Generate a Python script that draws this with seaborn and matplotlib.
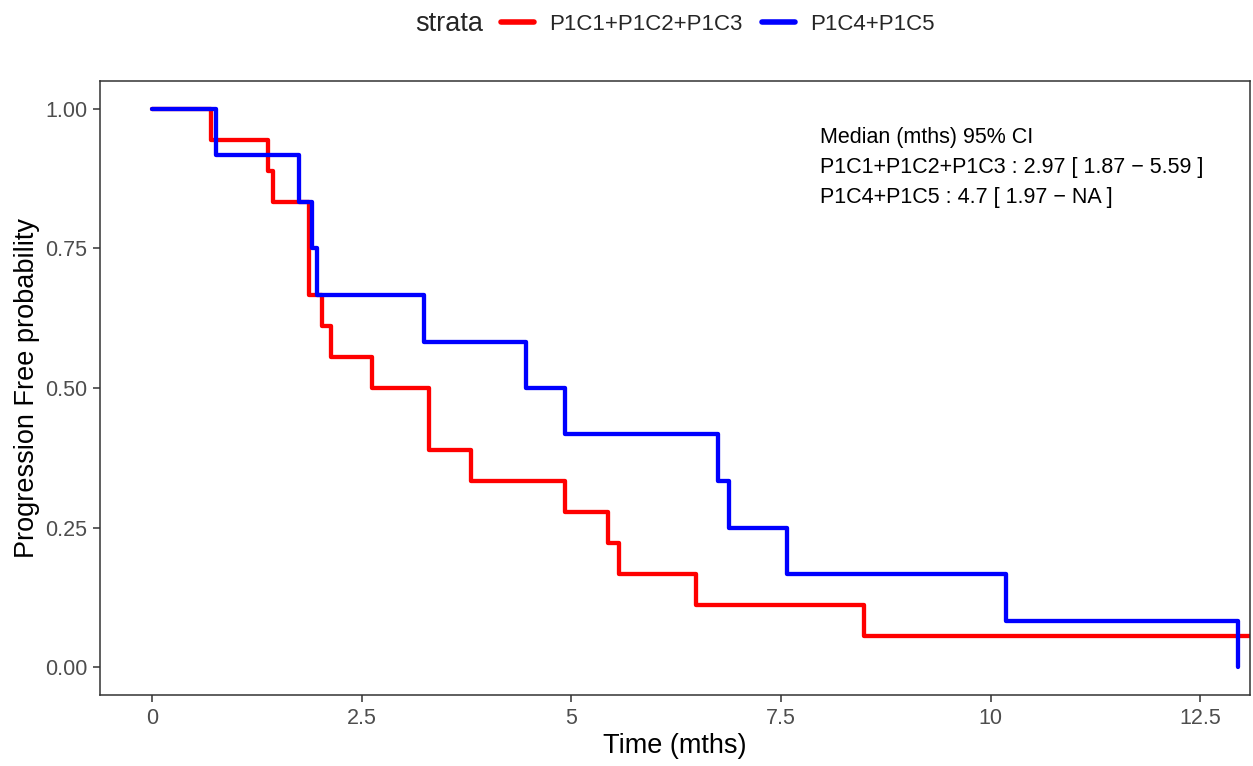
import pandas as pd
import matplotlib
matplotlib.use("Agg")
import matplotlib.pyplot as plt
import seaborn as sns
from matplotlib.lines import Line2D

# survival curve steps
strata_names = ["P1C1+P1C2+P1C3", "P1C4+P1C5"]

red_time = [0, 0.71, 1.38, 1.45, 1.87, 2.03, 2.14, 2.63, 3.31, 3.80, 4.92, 5.44, 5.57, 6.49, 8.49, 13.5]
red_surv = [1.0, 0.944, 0.889, 0.833, 0.667, 0.611, 0.556, 0.5, 0.389, 0.333, 0.278, 0.222, 0.167, 0.111, 0.0556, 0.0556]

blue_time = [0, 0.76, 1.75, 1.91, 1.97, 3.25, 4.46, 4.92, 6.75, 6.88, 7.57, 10.18, 12.95]
blue_surv = [1.0, 0.917, 0.833, 0.75, 0.667, 0.583, 0.5, 0.417, 0.333, 0.25, 0.167, 0.083, 0.0]

x_ticks = [0, 2.5, 5, 7.5, 10, 12.5]
x_tick_labels = ["0", "2.5", "5", "7.5", "10", "12.5"]
y_ticks = [0, 0.25, 0.5, 0.75, 1.0]
y_tick_labels = ["0.00", "0.25", "0.50", "0.75", "1.00"]

median_lines = ["Median (mths) 95% CI",
                "P1C1+P1C2+P1C3 : 2.97 [ 1.87 \u2212 5.59 ]",
                "P1C4+P1C5 : 4.7 [ 1.97 \u2212 NA ]"]

colors = {"P1C1+P1C2+P1C3": "#FF0000", "P1C4+P1C5": "#0000FF"}

# long format table
df = pd.concat([
    pd.DataFrame({"time": red_time, "surv": red_surv, "strata": strata_names[0]}),
    pd.DataFrame({"time": blue_time, "surv": blue_surv, "strata": strata_names[1]}),
], ignore_index=True)

sns.set_style("white")
plt.rcParams["font.family"] = ["Liberation Sans", "DejaVu Sans"]

fig = plt.figure(figsize=(12.53, 7.66), dpi=100)
ax = fig.add_axes([100 / 1253, 1 - 695 / 766, 1150 / 1253, 614 / 766])

sns.lineplot(data=df, x="time", y="surv", hue="strata", palette=colors,
             estimator=None, sort=False, drawstyle="steps-post",
             linewidth=3.1, legend=False, ax=ax)

ax.set_xlim(-0.617, 13.09)
ax.set_ylim(-0.05, 1.05)
ax.set_xticks(x_ticks)
ax.set_xticklabels(x_tick_labels)
ax.set_yticks(y_ticks)
ax.set_yticklabels(y_tick_labels)
ax.tick_params(axis="both", direction="out", length=5, width=1.1, color="#333333",
               labelsize=15.5, labelcolor="#4D4D4D", pad=4,
               bottom=True, left=True)
for sp in ax.spines.values():
    sp.set_color("#333333")
    sp.set_linewidth(1.1)

ax.set_xlabel("Time (mths)", fontsize=19.5, color="black", labelpad=3)
ax.set_ylabel("Progression Free probability", fontsize=19.5, color="black", labelpad=4)

# median text block
ys = [0.949, 0.895, 0.841]
for line, yy in zip(median_lines, ys):
    ax.text(7.96, yy, line, fontsize=15.5, va="center", ha="left", color="black")

# legend on top
fig.text(415 / 1253, 1 - 24 / 766, "strata", fontsize=19.5, va="center", ha="left")
handles = [Line2D([], [], color=colors[s], linewidth=4) for s in strata_names]
fig.legend(handles, strata_names, loc="center left", bbox_to_anchor=(481 / 1253, 1 - 24 / 766),
           ncol=2, frameon=False, fontsize=16, handlelength=1.5, handletextpad=0.68,
           columnspacing=0.86)

fig.savefig("out.png", dpi=100)
